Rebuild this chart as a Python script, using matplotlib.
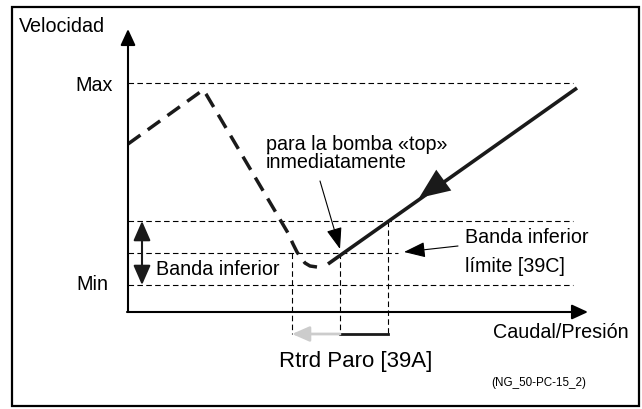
import matplotlib
matplotlib.use('Agg')
import matplotlib.pyplot as plt
from matplotlib.patches import Rectangle

plt.rcParams['font.family'] = ['Liberation Sans', 'DejaVu Sans']

# diagram drawn in pixel units (y grows downwards)
axis_origin = (128, 313)
x_axis_end = 588
y_axis_end = 30

max_level = 84
band_top = 222
band_limit = 254
min_level = 286
guide_right = 573
band_limit_right = 398

# dashed thick curve (before stop), then solid line (running)
curve_x = [128, 203, 206, 288, 293, 297, 301, 305, 310, 317]
curve_y = [145, 91, 95, 234, 245, 253, 259, 264, 267, 268]
solid_x = [328, 577]
solid_y = [265, 89]

# vertical guides for "Rtrd Paro [39A]"
guide_x = [292, 340, 388]
guide_top = [band_limit, band_limit, band_top]
guide_bottom = 335

fig = plt.figure(figsize=(6.42, 4.10), dpi=100)
ax = fig.add_axes([0, 0, 1, 1])
ax.set_xlim(0, 642)
ax.set_ylim(410, 0)
ax.axis('off')

ax.add_patch(Rectangle((12, 8), 627, 399, fill=False, lw=1.6, ec='black'))

thin = dict(color='black', lw=0.8, ls=(0, (5, 3)))
ax.plot([axis_origin[0], guide_right], [max_level, max_level], **thin)
ax.plot([axis_origin[0], guide_right], [band_top, band_top], **thin)
ax.plot([axis_origin[0], band_limit_right], [band_limit, band_limit], **thin)
ax.plot([axis_origin[0], guide_right], [min_level, min_level], **thin)
for gx, gt in zip(guide_x, guide_top):
    ax.plot([gx, gx], [gt, guide_bottom], **thin)

# axes with arrows
ax.annotate('', xy=(axis_origin[0], y_axis_end), xytext=axis_origin,
            arrowprops=dict(arrowstyle='-|>,head_length=0.65,head_width=0.3',
                            lw=1.5, color='black', mutation_scale=15,
                            shrinkA=0, shrinkB=0))
ax.annotate('', xy=(x_axis_end, axis_origin[1]), xytext=(axis_origin[0] - 1, axis_origin[1]),
            arrowprops=dict(arrowstyle='-|>,head_length=0.65,head_width=0.3',
                            lw=1.5, color='black', mutation_scale=15,
                            shrinkA=0, shrinkB=0))

# curves
ax.plot(curve_x, curve_y, color='#1a1a1a', lw=2.5, ls=(0, (4.4, 2.6)),
        solid_capstyle='butt', solid_joinstyle='round')
ax.plot(solid_x, solid_y, color='#1a1a1a', lw=2.6, solid_capstyle='butt')
ax.annotate('', xy=(419, 199), xytext=(455, 173),
            arrowprops=dict(arrowstyle='-|>,head_length=1.0,head_width=0.42',
                            lw=0, color='#1a1a1a', mutation_scale=22,
                            shrinkA=0, shrinkB=0))

# band double arrow
ax.annotate('', xy=(142, band_top), xytext=(142, min_level),
            arrowprops=dict(arrowstyle='<|-|>,head_length=0.8,head_width=0.35',
                            lw=1.5, color='#1a1a1a', mutation_scale=15,
                            shrinkA=0, shrinkB=0))

# delay arrow at the bottom
ax.annotate('', xy=(guide_x[0], guide_bottom), xytext=(guide_x[1], guide_bottom),
            arrowprops=dict(arrowstyle='-|>,head_length=0.8,head_width=0.35',
                            lw=2, color='#cccccc', mutation_scale=13,
                            shrinkA=0, shrinkB=0))
ax.plot([guide_x[1], guide_x[2]], [guide_bottom, guide_bottom], color='#1a1a1a', lw=2)

# pointer arrows
ax.annotate('', xy=(340, 250), xytext=(320, 182),
            arrowprops=dict(arrowstyle='-|>,head_length=1.1,head_width=0.4',
                            lw=0.8, color='black', mutation_scale=12,
                            shrinkA=0, shrinkB=0))
ax.annotate('', xy=(404, 253), xytext=(458, 247),
            arrowprops=dict(arrowstyle='-|>,head_length=1.1,head_width=0.4',
                            lw=0.8, color='black', mutation_scale=12,
                            shrinkA=0, shrinkB=0))

fs = 14.2
ax.text(19, 32, 'Velocidad', fontsize=fs, va='baseline')
ax.text(113, 91, 'Max', fontsize=fs, va='baseline', ha='right')
ax.text(108, 290, 'Min', fontsize=fs, va='baseline', ha='right')
ax.text(156, 275, 'Banda inferior', fontsize=fs, va='baseline')
ax.text(266, 150, 'para la bomba «top»', fontsize=fs, va='baseline')
ax.text(266, 168, 'inmediatamente', fontsize=fs, va='baseline')
ax.text(465, 243, 'Banda inferior', fontsize=fs, va='baseline')
ax.text(465, 272, 'límite [39C]', fontsize=fs, va='baseline')
ax.text(493, 338, 'Caudal/Presión', fontsize=fs, va='baseline')
ax.text(279, 367, 'Rtrd Paro [39A]', fontsize=16, va='baseline')
ax.text(491, 386, '(NG_50-PC-15_2)', fontsize=8.4, va='baseline')

fig.savefig('out.png', dpi=100)
